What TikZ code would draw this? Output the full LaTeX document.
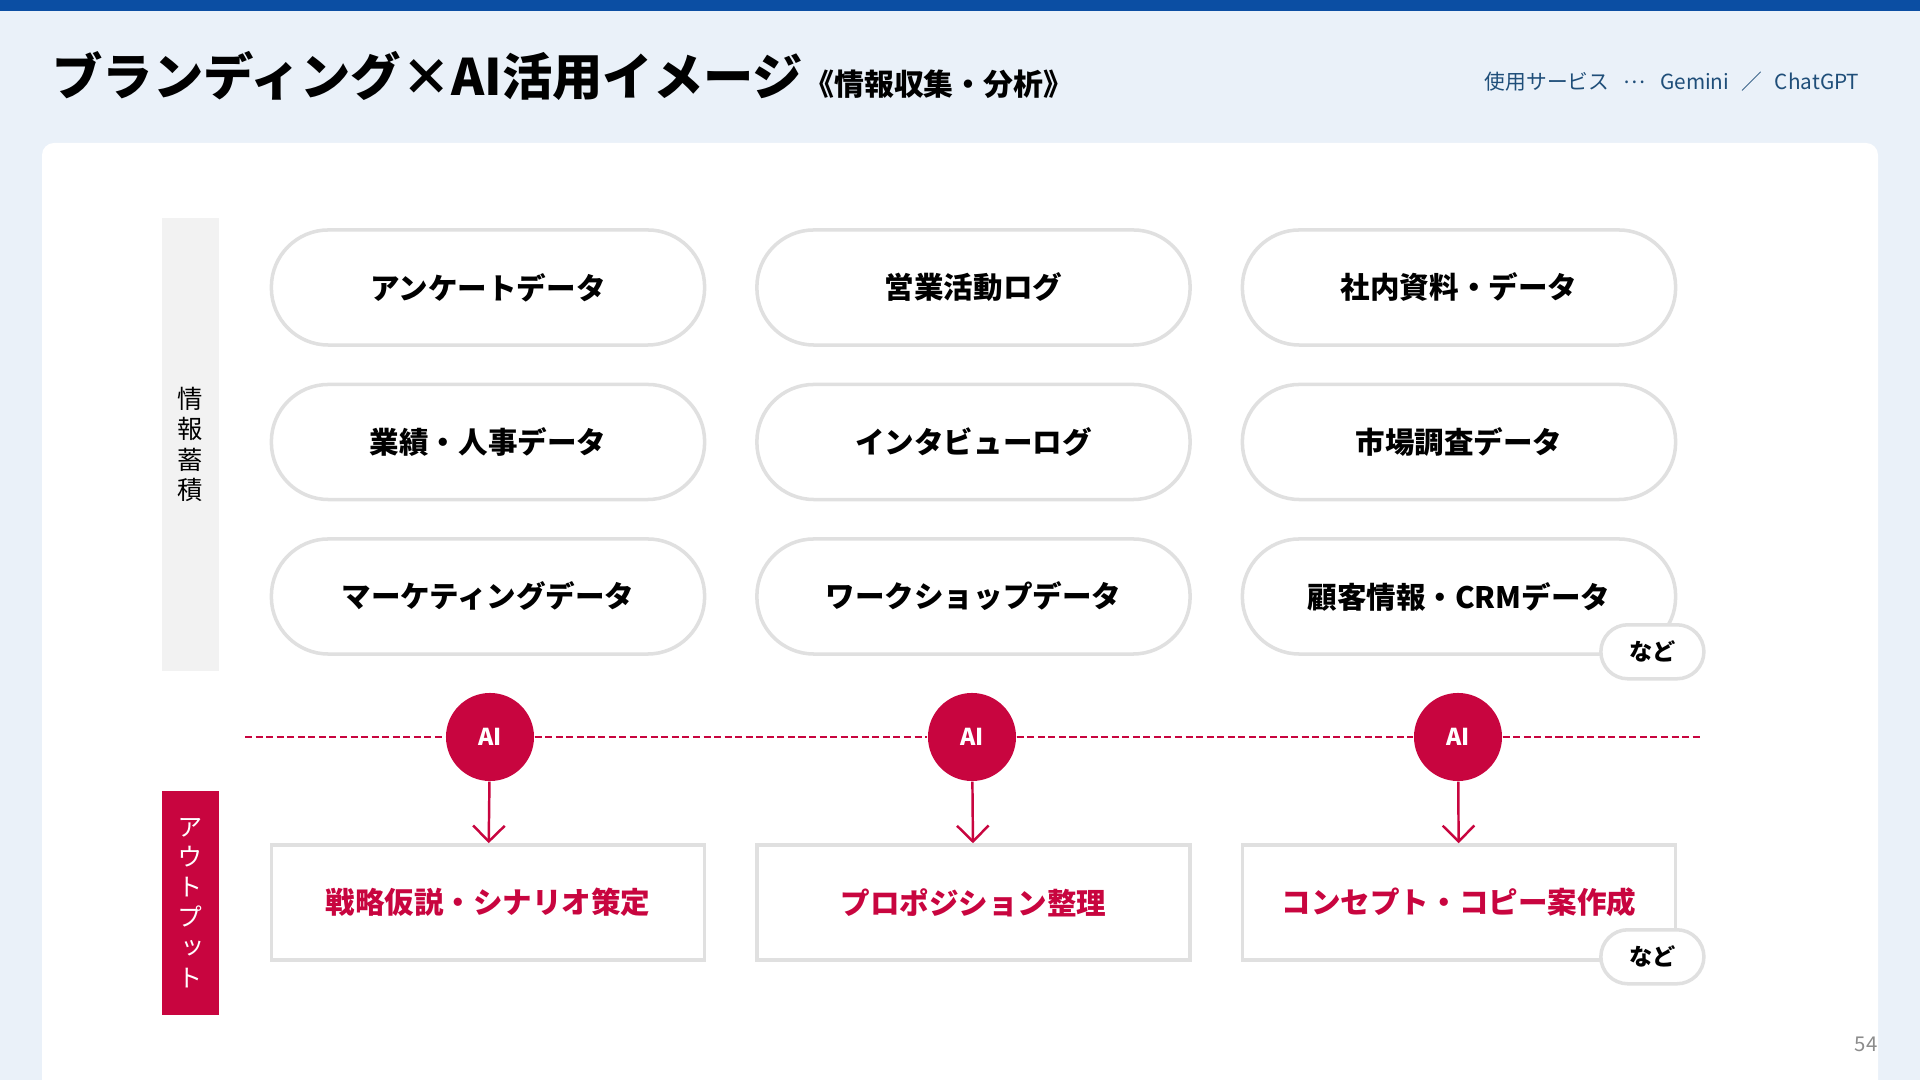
\documentclass[tikz,border=0pt]{standalone}
\usepackage{fontspec}
\setmainfont{Noto Sans CJK JP}
\newfontfamily\vjp[RawFeature=+vert]{Noto Sans CJK JP}
\usetikzlibrary{positioning, arrows.meta, calc}

\definecolor{barblue}{HTML}{0B4EA3}
\definecolor{bgblue}{HTML}{EAF1F9}
\definecolor{svcblue}{HTML}{1F4E79}
\definecolor{aired}{HTML}{C8053F}
\definecolor{pillgray}{HTML}{E0E0E0}
\definecolor{bargray}{HTML}{F2F2F2}

\begin{document}
\begin{tikzpicture}[x=0.01cm, y=-0.01cm,
  pill/.style={draw=pillgray, line width=1pt, fill=white, rounded corners=0.57cm,
    minimum width=4.33cm, minimum height=1.15cm, font=\fontsize{8.4}{10}\selectfont\bfseries},
  outbox/.style={draw=pillgray, line width=1pt, fill=white, minimum width=4.33cm,
    minimum height=1.15cm, text=aired, font=\fontsize{8.4}{10}\selectfont\bfseries},
  ainode/.style={circle, fill=aired, minimum size=0.88cm, inner sep=0pt, text=white,
    font=\fontsize{6.6}{7}\selectfont\bfseries},
  nado/.style={draw=pillgray, line width=1pt, fill=white, rounded corners=0.27cm,
    minimum width=1.03cm, minimum height=0.54cm, font=\fontsize{6.6}{8}\selectfont\bfseries},
  sidebar/.style={minimum width=0.57cm, inner sep=0pt, align=center,
    font=\vjp\fontsize{7.2}{8.6}\selectfont}]
\useasboundingbox (0,0) rectangle (1920,1080);
\clip (0,0) rectangle (1920,1080);

% page background
\fill[bgblue] (0,0) rectangle (1920,1080);
\fill[barblue] (0,0) rectangle (1920,11);
\fill[white, rounded corners=0.12cm] (42,143) rectangle (1878,1130);

% heading
\node[anchor=west, inner sep=0pt, font=\fontsize{14.3}{16}\selectfont\bfseries] (title) at (52,76) {ブランディング×AI活用イメージ};
\node[anchor=base west, inner sep=0pt, font=\fontsize{8.5}{10}\selectfont\bfseries] (subtitle) at (title.base east) {《情報収集・分析》};
\node[anchor=east, inner sep=0pt, text=svcblue, font=\fontsize{5.9}{7}\selectfont] (service) at (1860,82)
  {使用サービス\hspace{0.7em}\raisebox{0.3em}{…}\hspace{0.7em}Gemini\hspace{0.6em}／\hspace{0.6em}ChatGPT};

% side labels
\node[sidebar, fill=bargray, minimum height=4.53cm] (infobar) at (190.5,444.5) {情\\報\\蓄\\積};
\node[sidebar, fill=aired, text=white, minimum height=2.24cm] (outbar) at (190.5,903) {ア\\ウ\\ト\\プ\\ッ\\ト};

% sources
\foreach \txt [count=\i from 0] in {アンケートデータ, 営業活動ログ, 社内資料・データ,
    業績・人事データ, インタビューログ, 市場調査データ,
    マーケティングデータ, ワークショップデータ, 顧客情報・CRMデータ} {
  \pgfmathtruncatemacro{\row}{div(\i,3)}
  \pgfmathtruncatemacro{\col}{mod(\i,3)}
  \node[pill] (src\i) at (488+\col*485.5, 287.5+\row*154.5) {\txt};
}
\node[nado] (nadoA) at ($(src8.south east)+(-25,-4)$) {など};

% AI line
\coordinate (dashL) at (245,737);
\coordinate (dashR) at (1702,737);
\foreach \x [count=\i] in {490, 972, 1458} {
  \node[ainode] (ai\i) at (\x,737) {AI};
}
\draw[aired, line width=0.5pt, dash pattern=on 2pt off 1pt] (dashL) -- (ai1) -- (ai2) -- (ai3) -- (dashR);

% outputs
\foreach \txt [count=\i] in {戦略仮説・シナリオ策定, プロポジション整理, コンセプト・コピー案作成} {
  \node[outbox] (out\i) at (488+\i*485.5-485.5, 902.5) {\txt};
  \draw[aired, line width=0.7pt, -{Straight Barb[length=4.5pt, width=9pt]}] (ai\i) -- (out\i);
}
\node[nado] (nadoB) at ($(out3.south east)+(-25,-5)$) {など};

\node[text=black!45, font=\fontsize{5.8}{7}\selectfont] (pagenum) at (1866,1044) {54};
\end{tikzpicture}
\end{document}
